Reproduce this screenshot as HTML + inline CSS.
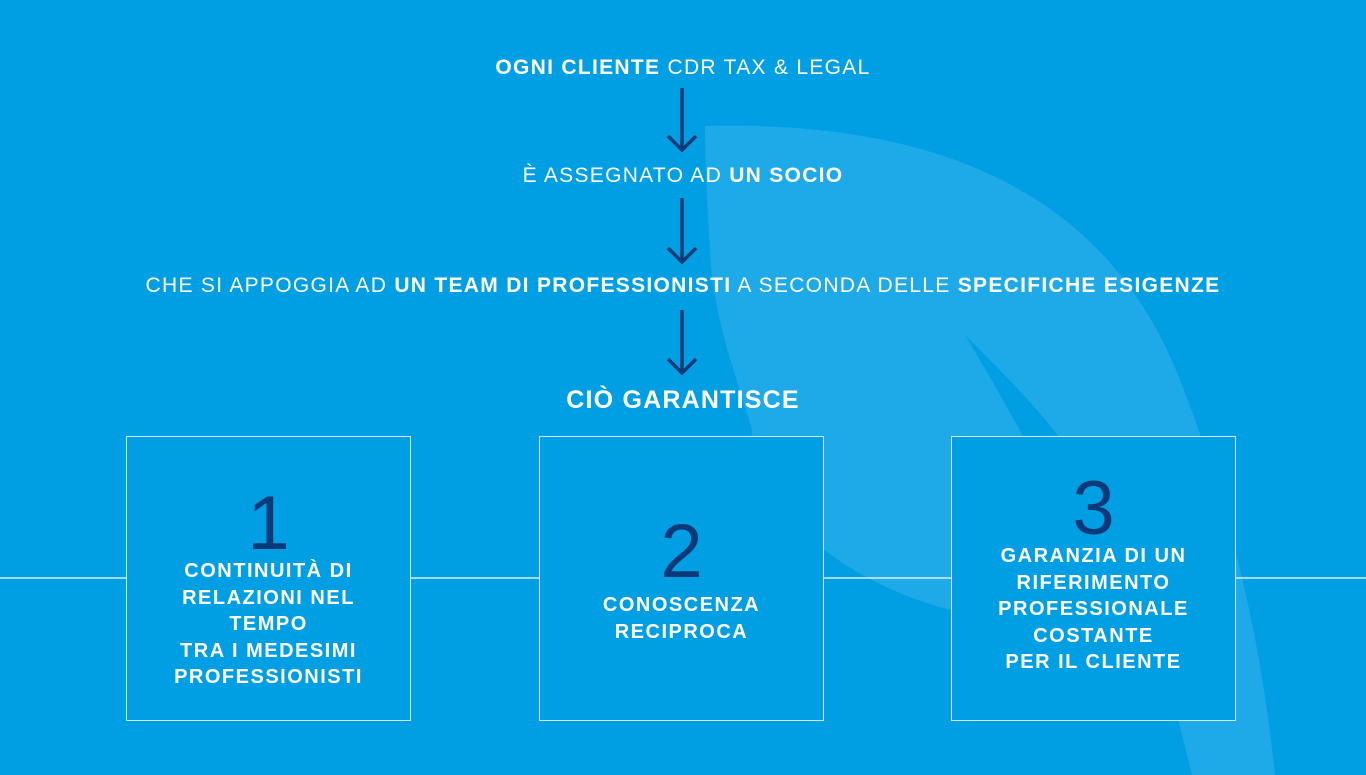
<!DOCTYPE html>
<html><head><meta charset="utf-8"><style>
html,body{margin:0;padding:0}
body{width:1366px;height:775px;background:#009fe3;position:relative;overflow:hidden;font-family:"Liberation Sans",sans-serif;color:#fff}
.t{position:absolute;left:0;width:1366px;text-align:center;font-size:21px;white-space:nowrap;letter-spacing:1.3px}
.t b{font-weight:bold}
.box{position:absolute;top:436px;width:283px;height:283px;border:1.5px solid rgba(255,255,255,0.8);background:#009fe3}
.num{position:absolute;left:0;width:100%;text-align:center;font-size:76px;color:#0c3a78;line-height:1}
.bt{position:absolute;left:0;width:100%;text-align:center;font-size:20px;font-weight:bold;line-height:26.5px;letter-spacing:1.5px}
</style></head><body>
<svg width="1366" height="775" style="position:absolute;left:0;top:0">
<path d="M705,126 C950,120 1110,200 1180,380 C1235,520 1262,650 1275,775 L960,775 L960,612 C880,595 800,545 770,490 C755,460 752,440 752,430 C738,380 713,320 710,250 C707,200 705,160 705,126 Z" fill="#1ea9e8"/>
<path d="M965,335 C1000,370 1035,405 1058,436 C1120,530 1160,640 1192,775 L955,775 L955,640 L1023,436 Q995,385 965,335 Z" fill="#009fe3"/>
<line x1="0" y1="578" x2="1366" y2="578" stroke="#fff" stroke-width="1.2"/>
<g stroke="#0c3a78" stroke-width="3.5" fill="none">
<line x1="682" y1="88" x2="682" y2="150"/><polyline points="668,136 682,150 696,136"/>
<line x1="682" y1="198" x2="682" y2="262"/><polyline points="668,248 682,262 696,248"/>
<line x1="682" y1="310" x2="682" y2="373"/><polyline points="668,359 682,373 696,359"/>
</g>
</svg>
<div class="t" style="top:56px"><b>OGNI CLIENTE</b> CDR TAX &amp; LEGAL</div>
<div class="t" style="top:164px">È ASSEGNATO AD <b>UN SOCIO</b></div>
<div class="t" style="top:274px">CHE SI APPOGGIA AD <b>UN TEAM DI PROFESSIONISTI</b> A SECONDA DELLE <b>SPECIFICHE ESIGENZE</b></div>
<div class="t" style="top:386px;font-size:25px;letter-spacing:1.2px"><b>CIÒ GARANTISCE</b></div>
<div class="box" style="left:126px">
<div class="num" style="top:49px">1</div>
<div class="bt" style="top:121px">CONTINUITÀ DI<br>RELAZIONI NEL<br>TEMPO<br>TRA I MEDESIMI<br>PROFESSIONISTI</div>
</div>
<div class="box" style="left:539px">
<div class="num" style="top:77px">2</div>
<div class="bt" style="top:155px">CONOSCENZA<br>RECIPROCA</div>
</div>
<div class="box" style="left:951px">
<div class="num" style="top:34px">3</div>
<div class="bt" style="top:106px">GARANZIA DI UN<br>RIFERIMENTO<br>PROFESSIONALE<br>COSTANTE<br>PER IL CLIENTE</div>
</div>
</body></html>
